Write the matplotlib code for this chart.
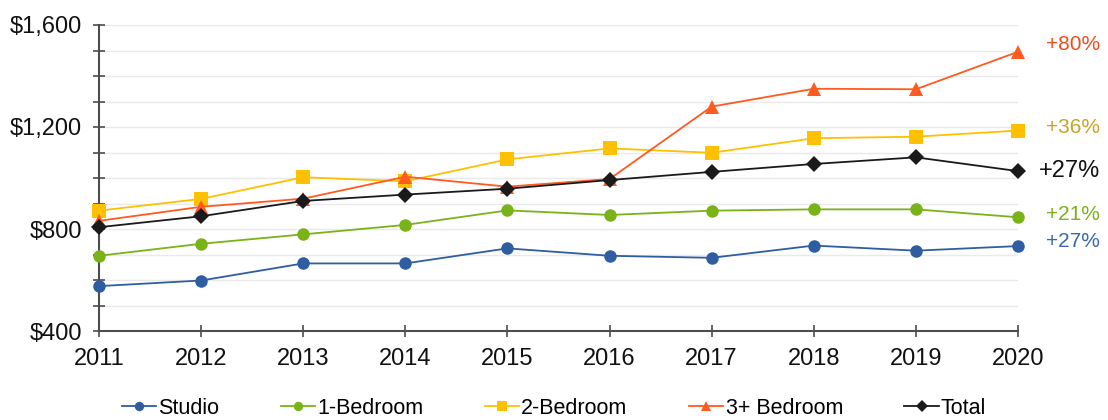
import matplotlib
matplotlib.use("Agg")
import matplotlib.pyplot as plt
from matplotlib.ticker import FixedLocator, FuncFormatter

plt.rcParams['font.family'] = ['Liberation Sans', 'DejaVu Sans']

years = [2011, 2012, 2013, 2014, 2015, 2016, 2017, 2018, 2019, 2020]
studio = [576, 598, 665, 665, 724, 695, 687, 735, 715, 733]
one_bed = [695, 742, 779, 816, 873, 855, 872, 877, 877, 846]
two_bed = [872, 918, 1003, 987, 1073, 1116, 1099, 1156, 1162, 1186]
three_bed = [832, 887, 919, 1005, 966, 996, 1280, 1350, 1348, 1495]
total = [807, 850, 910, 935, 958, 992, 1024, 1055, 1081, 1027]

series_names = ["Studio", "1-Bedroom", "2-Bedroom", "3+ Bedroom", "Total"]
change_labels = ["+27%", "+21%", "+36%", "+80%", "+27%"]

series = [studio, one_bed, two_bed, three_bed, total]
line_colors = ["#2F5DA2", "#7AB317", "#FFC000", "#FF5A1F", "#1A1A1A"]
label_colors = ["#3A68B0", "#7AB317", "#C9A227", "#E8501E", "#111111"]
markers = ["o", "o", "s", "^", "D"]
msizes = [9, 9, 10, 10, 8]
label_sizes = [15, 15, 15, 15, 17]
label_dx = [20, 20, 20, 20, 15]  # points
label_dy = [3, 2, 2, 5, 0]  # points

fig = plt.figure(figsize=(11.08, 4.2), dpi=100)
ax = fig.add_axes([99/1108, 1 - 331/420, (1018-99)/1108, (331-25)/420])

handles = []
for i in range(len(series)):
    h, = ax.plot(years, series[i], color=line_colors[i], marker=markers[i],
                 markersize=msizes[i], linewidth=1.3, clip_on=False, zorder=3 + i,
                 label=series_names[i], markeredgewidth=0)
    handles.append(h)
    ax.annotate(change_labels[i], xy=(years[-1], series[i][-1]),
                xytext=(label_dx[i], label_dy[i]), textcoords='offset points',
                ha='left', va='center', color=label_colors[i],
                fontsize=label_sizes[i], annotation_clip=False)

ax.set_xlim(years[0], years[-1])
ax.set_ylim(400, 1600)
ax.set_xticks(years)
ax.yaxis.set_major_locator(FixedLocator(list(range(400, 1601, 100))))
ax.yaxis.set_major_formatter(FuncFormatter(lambda v, p: f"${int(v):,}" if int(v) % 400 == 0 else ""))

for sp in ['top', 'right']:
    ax.spines[sp].set_visible(False)
for sp in ['left', 'bottom']:
    ax.spines[sp].set_color('#4D4D4D')
    ax.spines[sp].set_linewidth(1.5)

ax.tick_params(axis='both', direction='inout', length=8, width=1.2, color='#4D4D4D',
               labelsize=17, labelcolor='#111111')
ax.tick_params(axis='y', pad=8)
ax.tick_params(axis='x', pad=8)
ax.grid(axis='y', color='#EAEAEA', linewidth=1)
ax.set_axisbelow(True)

leg = fig.legend(handles=handles, loc='center', bbox_to_anchor=(0.5, 12/420),
                 ncol=5, frameon=False, fontsize=15.5, handlelength=1.6,
                 handletextpad=0.1, columnspacing=2.85, markerscale=0.75)

fig.savefig("out.png", dpi=100)
